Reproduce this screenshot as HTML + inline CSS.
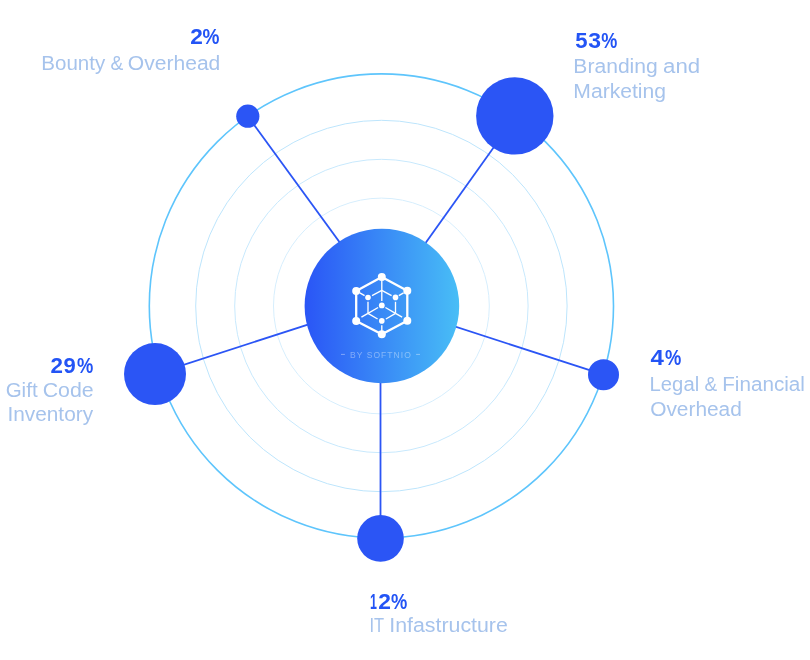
<!DOCTYPE html>
<html>
<head>
<meta charset="utf-8">
<style>
html,body{margin:0;padding:0;background:#fff;width:810px;height:660px;overflow:hidden;}
svg{position:absolute;left:0;top:0;display:block;}
svg{will-change:transform;}
.pct{font-family:"Liberation Sans",sans-serif;font-weight:bold;font-size:22px;fill:#2354f5;}
.lbl{font-family:"Liberation Sans",sans-serif;font-weight:normal;font-size:19.5px;fill:#a6c3ec;}
.by{font-family:"Liberation Sans",sans-serif;font-size:8.2px;fill:#ffffff;fill-opacity:.38;letter-spacing:1px;}
</style>
</head>
<body>
<svg width="810" height="660" viewBox="0 0 810 660">
  <defs>
    <linearGradient id="g" x1="0" y1="0" x2="1" y2="0">
      <stop offset="0" stop-color="#2a55f6"/>
      <stop offset="1" stop-color="#48bef6"/>
    </linearGradient>
  </defs>
  <!-- rings -->
  <circle cx="381.4" cy="306" r="232.1" fill="none" stroke="#5ec5fc" stroke-width="1.6"/>
  <circle cx="381.4" cy="306" r="185.7" fill="none" stroke="#bde5fc" stroke-width="1"/>
  <circle cx="381.4" cy="306" r="146.7" fill="none" stroke="#c8e9fd" stroke-width="1"/>
  <circle cx="381.4" cy="306" r="107.9" fill="none" stroke="#d6eefd" stroke-width="1"/>
  <!-- spokes -->
  <g stroke="#2b55f5" stroke-width="1.8" fill="none">
    <line x1="247.7" y1="116.2" x2="381.7" y2="300"/>
    <line x1="516.1" y1="115.9" x2="382.9" y2="302.9"/>
    <line x1="603.5" y1="374.7" x2="381.5" y2="302.65"/>
    <line x1="155" y1="374.05" x2="381.5" y2="300.8"/>
    <line x1="380.5" y1="538.4" x2="380.5" y2="306"/>
  </g>
  <!-- nodes -->
  <g fill="#2b55f5">
    <circle cx="247.8" cy="116.2" r="11.6"/>
    <circle cx="514.8" cy="115.9" r="38.7"/>
    <circle cx="603.5" cy="374.7" r="15.5"/>
    <circle cx="155" cy="374.1" r="31"/>
    <circle cx="380.5" cy="538.4" r="23.3"/>
  </g>
  <!-- center -->
  <circle cx="381.9" cy="306" r="77.3" fill="url(#g)"/>
  <!-- icon -->
  <g fill="#fff" stroke="#fff">
    <polygon points="381.8,276.9 407.3,290.7 407.3,320.7 381.8,334.3 356.2,320.9 356.2,290.9" fill="none" stroke-width="2.3" stroke-linejoin="round"/>
    <g stroke="none">
      <circle cx="381.8" cy="276.9" r="4"/>
      <circle cx="407.3" cy="290.7" r="4"/>
      <circle cx="407.3" cy="320.7" r="4"/>
      <circle cx="381.8" cy="334.3" r="4"/>
      <circle cx="356.2" cy="320.9" r="4"/>
      <circle cx="356.2" cy="290.9" r="4"/>
      <circle cx="368" cy="297.5" r="2.8"/>
      <circle cx="395.5" cy="297.4" r="2.8"/>
      <circle cx="381.8" cy="305.4" r="2.9"/>
      <circle cx="381.8" cy="320.9" r="2.8"/>
    </g>
    <g stroke-width="1.35" fill="none">
      <line x1="381.8" y1="281" x2="381.8" y2="301"/>
      <line x1="381.8" y1="290.4" x2="372" y2="295.6"/>
      <line x1="381.8" y1="290.4" x2="391.6" y2="295.6"/>
      <line x1="359.8" y1="292.8" x2="364.6" y2="295.6"/>
      <line x1="403.6" y1="292.8" x2="398.8" y2="295.6"/>
      <line x1="368" y1="301.8" x2="368" y2="313.3"/>
      <line x1="395.5" y1="301.8" x2="395.5" y2="313.3"/>
      <line x1="368" y1="313.3" x2="361.4" y2="317.2"/>
      <line x1="395.5" y1="313.3" x2="402.1" y2="317.2"/>
      <line x1="368" y1="313.3" x2="378.1" y2="307.5"/>
      <line x1="395.5" y1="313.3" x2="385.4" y2="307.5"/>
      <line x1="368" y1="313.3" x2="377.6" y2="319"/>
      <line x1="395.5" y1="313.3" x2="385.9" y2="319"/>
      <line x1="381.8" y1="325.2" x2="381.8" y2="331"/>
    </g>
  </g>
  <rect x="341" y="353.9" width="3.9" height="1" fill="#fff" fill-opacity=".38"/>
  <rect x="416.1" y="353.9" width="3.9" height="1" fill="#fff" fill-opacity=".38"/>
  <text class="by" x="350" y="357.8" textLength="61.8" lengthAdjust="spacingAndGlyphs">BY SOFTNIO</text>

  <!-- TEXT START -->
  <text id="t0" class="pct" x="190.150" y="43.9" textLength="12.569" lengthAdjust="spacingAndGlyphs">2</text>
  <text id="t1" class="pct" x="202.512" y="43.9" textLength="16.922" lengthAdjust="spacingAndGlyphs">%</text>
  <text id="t2" class="pct" x="575.160" y="48.1" textLength="12.302" lengthAdjust="spacingAndGlyphs">5</text>
  <text id="t3" class="pct" x="588.310" y="48.1" textLength="12.795" lengthAdjust="spacingAndGlyphs">3</text>
  <text id="t4" class="pct" x="601.369" y="48.1" textLength="16.045" lengthAdjust="spacingAndGlyphs">%</text>
  <text id="t5" class="pct" x="650.621" y="364.9" textLength="13.376" lengthAdjust="spacingAndGlyphs">4</text>
  <text id="t6" class="pct" x="664.883" y="364.9" textLength="16.269" lengthAdjust="spacingAndGlyphs">%</text>
  <text id="t7" class="pct" x="50.423" y="372.7" textLength="12.455" lengthAdjust="spacingAndGlyphs">2</text>
  <text id="t8" class="pct" x="63.526" y="372.7" textLength="12.265" lengthAdjust="spacingAndGlyphs">9</text>
  <text id="t9" class="pct" x="77.124" y="372.7" textLength="16.280" lengthAdjust="spacingAndGlyphs">%</text>
  <text id="t10" class="pct" x="369.933" y="609" textLength="6.910" lengthAdjust="spacingAndGlyphs">1</text>
  <text id="t11" class="pct" x="378.358" y="609" textLength="12.690" lengthAdjust="spacingAndGlyphs">2</text>
  <text id="t12" class="pct" x="391.124" y="609" textLength="16.280" lengthAdjust="spacingAndGlyphs">%</text>
  <text id="t13" class="lbl" x="41.369" y="69.8" textLength="63.851" lengthAdjust="spacingAndGlyphs">Bounty</text>
  <text id="t14" class="lbl" x="110.397" y="69.8" textLength="12.798" lengthAdjust="spacingAndGlyphs">&amp;</text>
  <text id="t15" class="lbl" x="127.887" y="69.8" textLength="92.457" lengthAdjust="spacingAndGlyphs">Overhead</text>
  <text id="t16" class="lbl" x="573.387" y="73" textLength="84.368" lengthAdjust="spacingAndGlyphs">Branding</text>
  <text id="t17" class="lbl" x="663.106" y="73" textLength="37.102" lengthAdjust="spacingAndGlyphs">and</text>
  <text id="t18" class="lbl" x="573.321" y="97.8" textLength="92.727" lengthAdjust="spacingAndGlyphs">Marketing</text>
  <text id="t19" class="lbl" x="649.590" y="391" textLength="49.598" lengthAdjust="spacingAndGlyphs">Legal</text>
  <text id="t20" class="lbl" x="704.439" y="391" textLength="12.643" lengthAdjust="spacingAndGlyphs">&amp;</text>
  <text id="t21" class="lbl" x="722.198" y="391" textLength="82.730" lengthAdjust="spacingAndGlyphs">Financial</text>
  <text id="t22" class="lbl" x="650.149" y="415.5" textLength="91.691" lengthAdjust="spacingAndGlyphs">Overhead</text>
  <text id="t23" class="lbl" x="5.668" y="397" textLength="31.930" lengthAdjust="spacingAndGlyphs">Gift</text>
  <text id="t24" class="lbl" x="42.697" y="397" textLength="51.005" lengthAdjust="spacingAndGlyphs">Code</text>
  <text id="t25" class="lbl" x="7.450" y="420.9" textLength="85.631" lengthAdjust="spacingAndGlyphs">Inventory</text>
  <text id="t26" class="lbl" x="369.516" y="631.7" textLength="14.693" lengthAdjust="spacingAndGlyphs">IT</text>
  <text id="t27" class="lbl" x="389.281" y="631.7" textLength="118.537" lengthAdjust="spacingAndGlyphs">Infastructure</text>
  <!-- TEXT END -->
</svg>
</body>
</html>
